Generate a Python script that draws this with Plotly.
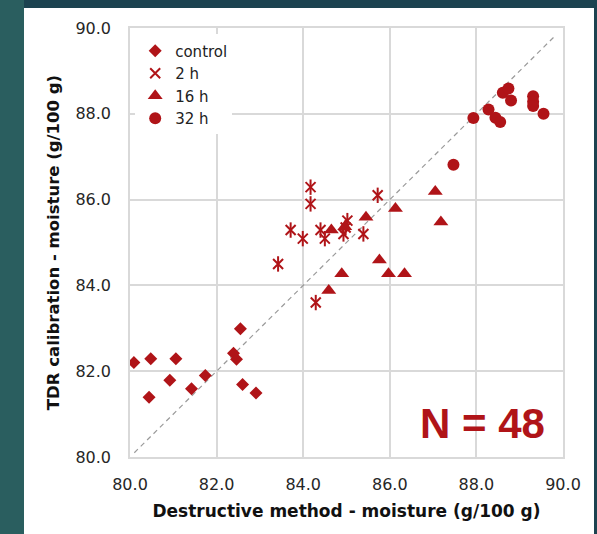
import plotly.graph_objects as go

# ---- data ----
control_x = [80.09, 80.48, 81.06, 80.44, 80.92, 81.42, 81.74, 82.39, 82.46, 82.55, 82.60, 82.91]
control_y = [82.20, 82.29, 82.29, 81.39, 81.79, 81.59, 81.90, 82.42, 82.28, 82.99, 81.69, 81.49]

h2_x = [84.17, 84.17, 85.72, 83.71, 83.99, 84.40, 84.50, 84.93, 85.02, 85.39, 83.42, 84.29, 84.98]
h2_y = [86.29, 85.90, 86.10, 85.29, 85.09, 85.29, 85.09, 85.20, 85.51, 85.20, 84.50, 83.60, 85.35]

h16_x = [84.65, 84.96, 85.45, 86.13, 87.05, 87.18, 85.76, 84.89, 85.97, 86.34, 84.59]
h16_y = [85.29, 85.37, 85.59, 85.79, 86.19, 85.48, 84.59, 84.27, 84.27, 84.27, 83.88]

h32_x = [87.47, 87.93, 88.28, 88.44, 88.55, 88.61, 88.74, 88.80, 89.31, 89.31, 89.31, 89.55]
h32_y = [86.81, 87.90, 88.10, 87.91, 87.81, 88.49, 88.59, 88.31, 88.41, 88.28, 88.18, 88.00]

line_x = [80.1, 89.78]
line_y = [80.1, 89.78]

tick_vals = [80, 82, 84, 86, 88, 90]
tick_text = ["80.0", "82.0", "84.0", "86.0", "88.0", "90.0"]

RED = "#B01418"
FONT = "DejaVu Sans"

fig = go.Figure()

fig.add_trace(go.Scatter(x=line_x, y=line_y, mode="lines", showlegend=False,
                         line=dict(color="#9A9A9A", width=1.2, dash="5px,4px"),
                         hoverinfo="skip"))

fig.add_trace(go.Scatter(x=control_x, y=control_y, mode="markers", name="control",
                         marker=dict(symbol="diamond", size=10, color=RED)))
fig.add_trace(go.Scatter(x=h2_x, y=h2_y, mode="markers", name="2 h", legendgroup="2h",
                         marker=dict(symbol="x-thin-open", size=10, color=RED,
                                     line=dict(color=RED, width=2))))
fig.add_trace(go.Scatter(x=h2_x, y=h2_y, mode="markers", name="2 h", legendgroup="2h",
                         showlegend=False,
                         marker=dict(symbol="line-ns-open", size=11, color=RED,
                                     line=dict(color=RED, width=2))))
fig.add_trace(go.Scatter(x=h16_x, y=h16_y, mode="markers", name="16 h",
                         marker=dict(symbol="triangle-up", size=13, color=RED)))
fig.add_trace(go.Scatter(x=h32_x, y=h32_y, mode="markers", name="32 h",
                         marker=dict(symbol="circle", size=12, color=RED)))

W, H = 597, 534
L, R, T, B = 130, 34, 28, 77
pw, ph = W - L - R, H - T - B

def px_x(p):
    return (p - L) / pw

def px_y(p):
    return (H - B - p) / ph

shapes = [
    dict(type="rect", xref="paper", yref="paper", x0=px_x(0), x1=px_x(24),
         y0=px_y(H), y1=px_y(0), fillcolor="#2A5E5F", line_width=0, layer="below"),
    dict(type="rect", xref="paper", yref="paper", x0=px_x(24), x1=px_x(594),
         y0=px_y(H + 2), y1=px_y(8), fillcolor="white", line_width=0, layer="below"),
]

fig.update_layout(
    width=W, height=H,
    margin=dict(l=L, r=R, t=T, b=B, pad=0),
    paper_bgcolor="#1C4350",
    plot_bgcolor="white",
    shapes=shapes,
    showlegend=True,
    legend=dict(x=0.012, y=0.985, xanchor="left", yanchor="top",
                bgcolor="rgba(255,255,255,1)", borderwidth=0,
                font=dict(family=FONT, size=15, color="#222"),
                itemwidth=30, tracegroupgap=0, itemsizing="trace"),
    xaxis=dict(range=[80, 90], tickvals=tick_vals, ticktext=tick_text,
               showgrid=True, gridcolor="#D9D9D9", gridwidth=1.5,
               showline=True, linecolor="#D9D9D9", linewidth=1.5, mirror=True,
               zeroline=False, ticks="", ticklabelstandoff=12,
               tickfont=dict(family=FONT, size=16, color="#262626"),
               title=dict(text="<b>Destructive method - moisture (g/100 g)</b>",
                          font=dict(family=FONT, size=17, color="#111"), standoff=12)),
    yaxis=dict(range=[80, 90], tickvals=tick_vals, ticktext=tick_text,
               showgrid=True, gridcolor="#D9D9D9", gridwidth=1.5,
               showline=True, linecolor="#D9D9D9", linewidth=1.5, mirror=True,
               zeroline=False, ticks="", ticklabelstandoff=14,
               tickfont=dict(family=FONT, size=16, color="#262626"),
               title=dict(text="<b>TDR calibration - moisture (g/100 g)</b>",
                          font=dict(family=FONT, size=16.5, color="#111"), standoff=12)),
    annotations=[dict(text="<b>N = 48</b>", xref="paper", yref="paper",
                      x=0.963, y=0.0175, xanchor="right", yanchor="bottom",
                      showarrow=False,
                      font=dict(family="Liberation Sans", size=42, color=RED))],
)

fig.write_html("out.html")
